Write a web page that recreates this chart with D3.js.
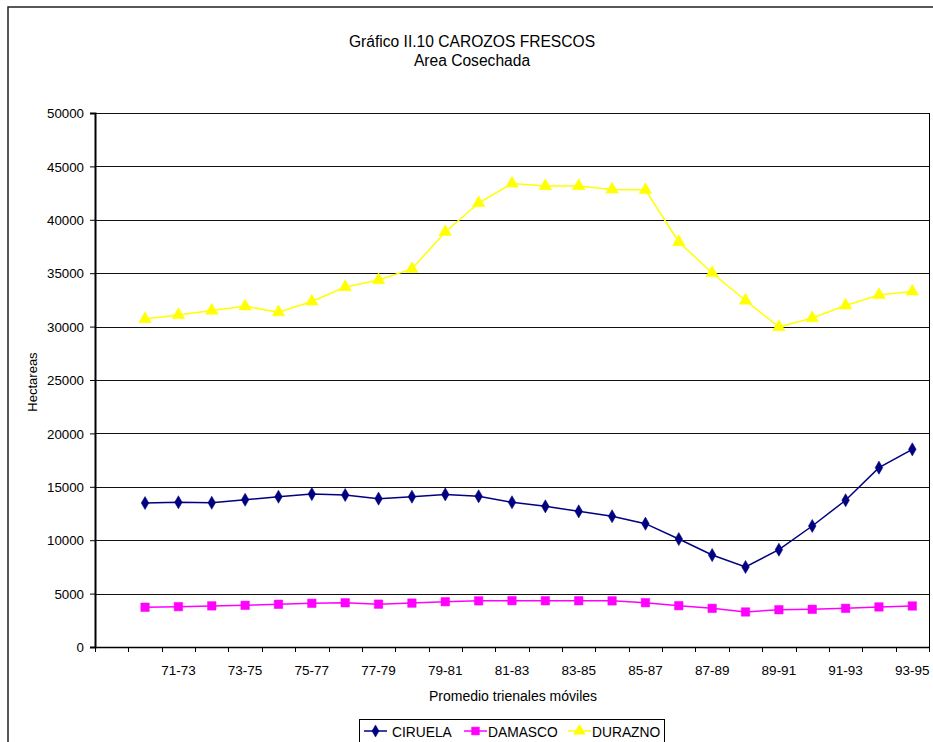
<!DOCTYPE html>
<html>
<head>
<meta charset="utf-8">
<script src="https://cdn.jsdelivr.net/npm/d3@7"></script>
<style>
  html, body { margin: 0; padding: 0; background: #fff; }
  svg { display: block; font-family: Arial, "Liberation Sans", sans-serif; }
</style>
</head>
<body>
<svg id="chart" width="933" height="742"></svg>
<script>
// ---- data ----
const categories = ["", "70-72", "71-73", "72-74", "73-75", "74-76", "75-77", "76-78", "77-79",
  "78-80", "79-81", "80-82", "81-83", "82-84", "83-85", "84-86", "85-87", "86-88", "87-89",
  "88-90", "89-91", "90-92", "91-93", "92-94", "93-95"];
const ciruela = [null, 13480, 13550, 13510, 13790, 14070, 14320, 14230, 13890, 14070, 14290,
  14110, 13550, 13170, 12700, 12240, 11550, 10110, 8610, 7490, 9110, 11330, 13740, 16790, 18510];
const damasco = [null, 3720, 3780, 3850, 3900, 4000, 4090, 4140, 4010, 4110, 4240,
  4320, 4340, 4330, 4330, 4320, 4150, 3870, 3620, 3280, 3490, 3530, 3620, 3750, 3840];
const durazno = [null, 30710, 31090, 31500, 31900, 31350, 32350, 33700, 34360, 35400, 38860,
  41570, 43400, 43160, 43160, 42840, 42790, 37920, 35020, 32440, 29960, 30800, 31980, 32960, 33290];
const yTicks = [0, 5000, 10000, 15000, 20000, 25000, 30000, 35000, 40000, 45000, 50000];
const seriesNames = ["CIRUELA", "DAMASCO", "DURAZNO"];
const seriesColors = ["#000080", "#FF00FF", "#FFFF00"];
const title1 = "Gráfico II.10 CAROZOS FRESCOS";
const title2 = "Area Cosechada";
const yLabel = "Hectareas";
const xLabel = "Promedio trienales móviles";

// ---- layout ----
const svg = d3.select("#chart");
const L = 95, R = 929, T = 113, B = 647;

const x = d3.scaleBand().domain(categories.map((c, i) => i)).range([L, R]).paddingInner(0).paddingOuter(0);
const y = d3.scaleLinear().domain([0, 50000]).range([B, T]);

// outer chart border
svg.append("rect").attr("x", 8).attr("y", 7).attr("width", 940).attr("height", 760)
  .attr("fill", "none").attr("stroke", "#222").attr("stroke-width", 1.5);

// titles
svg.append("text").attr("x", 472).attr("y", 47).attr("text-anchor", "middle")
  .attr("font-size", 15.6).attr("fill", "#000").text(title1);
svg.append("text").attr("x", 472).attr("y", 66).attr("text-anchor", "middle")
  .attr("font-size", 15.6).attr("fill", "#000").text(title2);

// gridlines
svg.append("g").selectAll("line").data(yTicks.filter(v => v > 0)).join("line")
  .attr("x1", L).attr("x2", R)
  .attr("y1", d => Math.round(y(d)) + 0.5).attr("y2", d => Math.round(y(d)) + 0.5)
  .attr("stroke", "#111").attr("stroke-width", 1);

// plot right border
svg.append("line").attr("x1", R + 0.5).attr("x2", R + 0.5).attr("y1", T).attr("y2", B)
  .attr("stroke", "#000").attr("stroke-width", 1);

// y axis
const yAxis = d3.axisLeft(y).tickValues(yTicks).tickSize(5).tickFormat(d3.format("d"));
const gy = svg.append("g").attr("transform", `translate(${L},0)`).call(yAxis);
gy.select(".domain").attr("stroke", "#000").attr("stroke-width", 2);
gy.selectAll(".tick line").attr("stroke", "#000");
gy.selectAll(".tick text").attr("font-size", 13.3).attr("fill", "#000")
  .attr("font-family", "Arial, 'Liberation Sans', sans-serif").attr("x", -11).attr("dy", "0.36em");

// x axis: ticks at category boundaries
const boundaries = d3.range(categories.length + 1).map(i => L + i * x.bandwidth());
const gx = svg.append("g");
gx.append("line").attr("x1", L).attr("x2", R).attr("y1", B + 0.5).attr("y2", B + 0.5)
  .attr("stroke", "#000").attr("stroke-width", 1.5);
gx.selectAll("line.tk").data(boundaries).join("line").attr("class", "tk")
  .attr("x1", d => Math.round(d) + 0.5).attr("x2", d => Math.round(d) + 0.5)
  .attr("y1", B).attr("y2", B + 5).attr("stroke", "#000");
gx.selectAll("text").data(categories.map((c, i) => ({ c, i })).filter(d => d.i % 2 === 0 && d.c))
  .join("text")
  .attr("x", d => x(d.i) + x.bandwidth() / 2).attr("y", B + 28)
  .attr("text-anchor", "middle").attr("font-size", 13.5).attr("fill", "#000")
  .text(d => d.c);

// axis titles
svg.append("text").attr("transform", `translate(37,${(T + B) / 2 + 2}) rotate(-90)`)
  .attr("text-anchor", "middle").attr("font-size", 13).attr("fill", "#000").text(yLabel);
svg.append("text").attr("x", 513).attr("y", 701).attr("text-anchor", "middle")
  .attr("font-size", 14).attr("fill", "#000").text(xLabel);

// series
const allSeries = [ciruela, damasco, durazno];
const cx = i => x(i) + x.bandwidth() / 2;
const line = d3.line().defined(d => d.v != null).x(d => cx(d.i)).y(d => y(d.v));
const symbols = [d3.symbolDiamond, d3.symbolSquare, d3.symbolTriangle];
const symSizes = [50, 72, 68];

function drawMarker(g, k, px, py, scale = 1) {
  g.append("path")
    .attr("d", d3.symbol().type(symbols[k]).size(symSizes[k] * scale)())
    .attr("transform", `translate(${px},${py})`)
    .attr("fill", seriesColors[k]).attr("stroke", seriesColors[k]).attr("stroke-width", 0.5);
}

allSeries.forEach((vals, k) => {
  const pts = vals.map((v, i) => ({ v, i }));
  const g = svg.append("g");
  g.append("path").datum(pts).attr("d", line)
    .attr("fill", "none").attr("stroke", seriesColors[k]).attr("stroke-width", 1.5);
  pts.filter(d => d.v != null).forEach(d => drawMarker(g, k, cx(d.i), y(d.v)));
});

// legend
const lg = svg.append("g");
lg.append("rect").attr("x", 359.5).attr("y", 719.5).attr("width", 305).attr("height", 30)
  .attr("fill", "#fff").attr("stroke", "#000").attr("stroke-width", 1);
const legendItems = [
  { lx: 364, tx: 392 },
  { lx: 464, tx: 488 },
  { lx: 568, tx: 592 }
];
legendItems.forEach((it, k) => {
  const ly = 731;
  lg.append("line").attr("x1", it.lx).attr("x2", it.lx + 23).attr("y1", ly).attr("y2", ly)
    .attr("stroke", seriesColors[k]).attr("stroke-width", 1.5);
  drawMarker(lg, k, it.lx + 11.5, ly, 0.85);
  lg.append("text").attr("x", it.tx).attr("y", ly + 5.5).attr("font-size", 13.8)
    .attr("fill", "#000").text(seriesNames[k]);
});
</script>
</body>
</html>
